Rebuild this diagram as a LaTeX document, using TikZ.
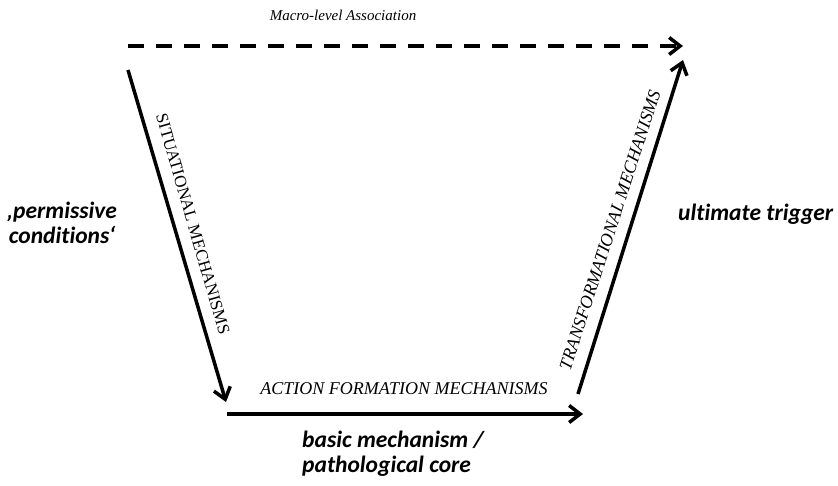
\documentclass[tikz,border=0pt]{standalone}
\usepackage{fontspec}
\setmainfont{Liberation Serif}
\newfontfamily\calfont[Ligatures=NoCommon]{Carlito}
\usetikzlibrary{arrows.meta}
\tikzset{
  flow/.style={line width=3.5pt, line cap=butt,
    -{Straight Barb[length=11pt,width=17pt,line width=3.5pt]}},
  macro/.style={flow, dash pattern=on 16pt off 12pt},
  mech/.style={inner sep=0pt, font=\fontsize{18}{20}\selectfont\itshape},
  mechup/.style={inner sep=0pt, font=\fontsize{17}{20}\selectfont},
  note/.style={inner sep=0pt, font=\calfont\fontsize{23.5}{25}\selectfont\bfseries\itshape}
}
\begin{document}
\begin{tikzpicture}[x=1pt,y=-1pt]
  \useasboundingbox (0,0) rectangle (838,485);

  % corner points of the scheme
  \coordinate (macroL) at (128,46);
  \coordinate (macroR) at (683,46);
  \coordinate (sitTop) at (128,70);
  \coordinate (sitEnd) at (226,402);
  \coordinate (actL) at (227,414);
  \coordinate (actR) at (583,414);
  \coordinate (trBot) at (578,394);
  \coordinate (trTop) at (683,60);

  % arrows
  \draw[macro] (macroL) -- (macroR);
  \draw[flow] (sitTop) -- (sitEnd);
  \draw[flow] (actL) -- (actR);
  \draw[flow] (trBot) -- (trTop);

  % mechanism labels
  \node[inner sep=0pt, anchor=base, font=\fontsize{15}{18}\selectfont\itshape]
    (macroLbl) at (343,20) {Macro-level Association};
  \node[mechup, rotate=-73.9] (sitLbl) at (193,224) {SITUATIONAL MECHANISMS};
  \node[mech] (actLbl) at (404,389) {ACTION FORMATION MECHANISMS};
  \node[mech, rotate=72] (trLbl) at (610,230) {TRANSFORMATIONAL MECHANISMS};

  % interpretive notes (base anchor sits on the last line)
  \node[note, anchor=base, align=center] (permLbl) at (62,243)
    {‚permissive\\conditions‘};
  \node[note, anchor=base west] (trigLbl) at (678,220) {ultimate trigger};
  \node[note, anchor=base west, align=left] (coreLbl) at (302,472)
    {basic mechanism /\\pathological core};
\end{tikzpicture}
\end{document}
